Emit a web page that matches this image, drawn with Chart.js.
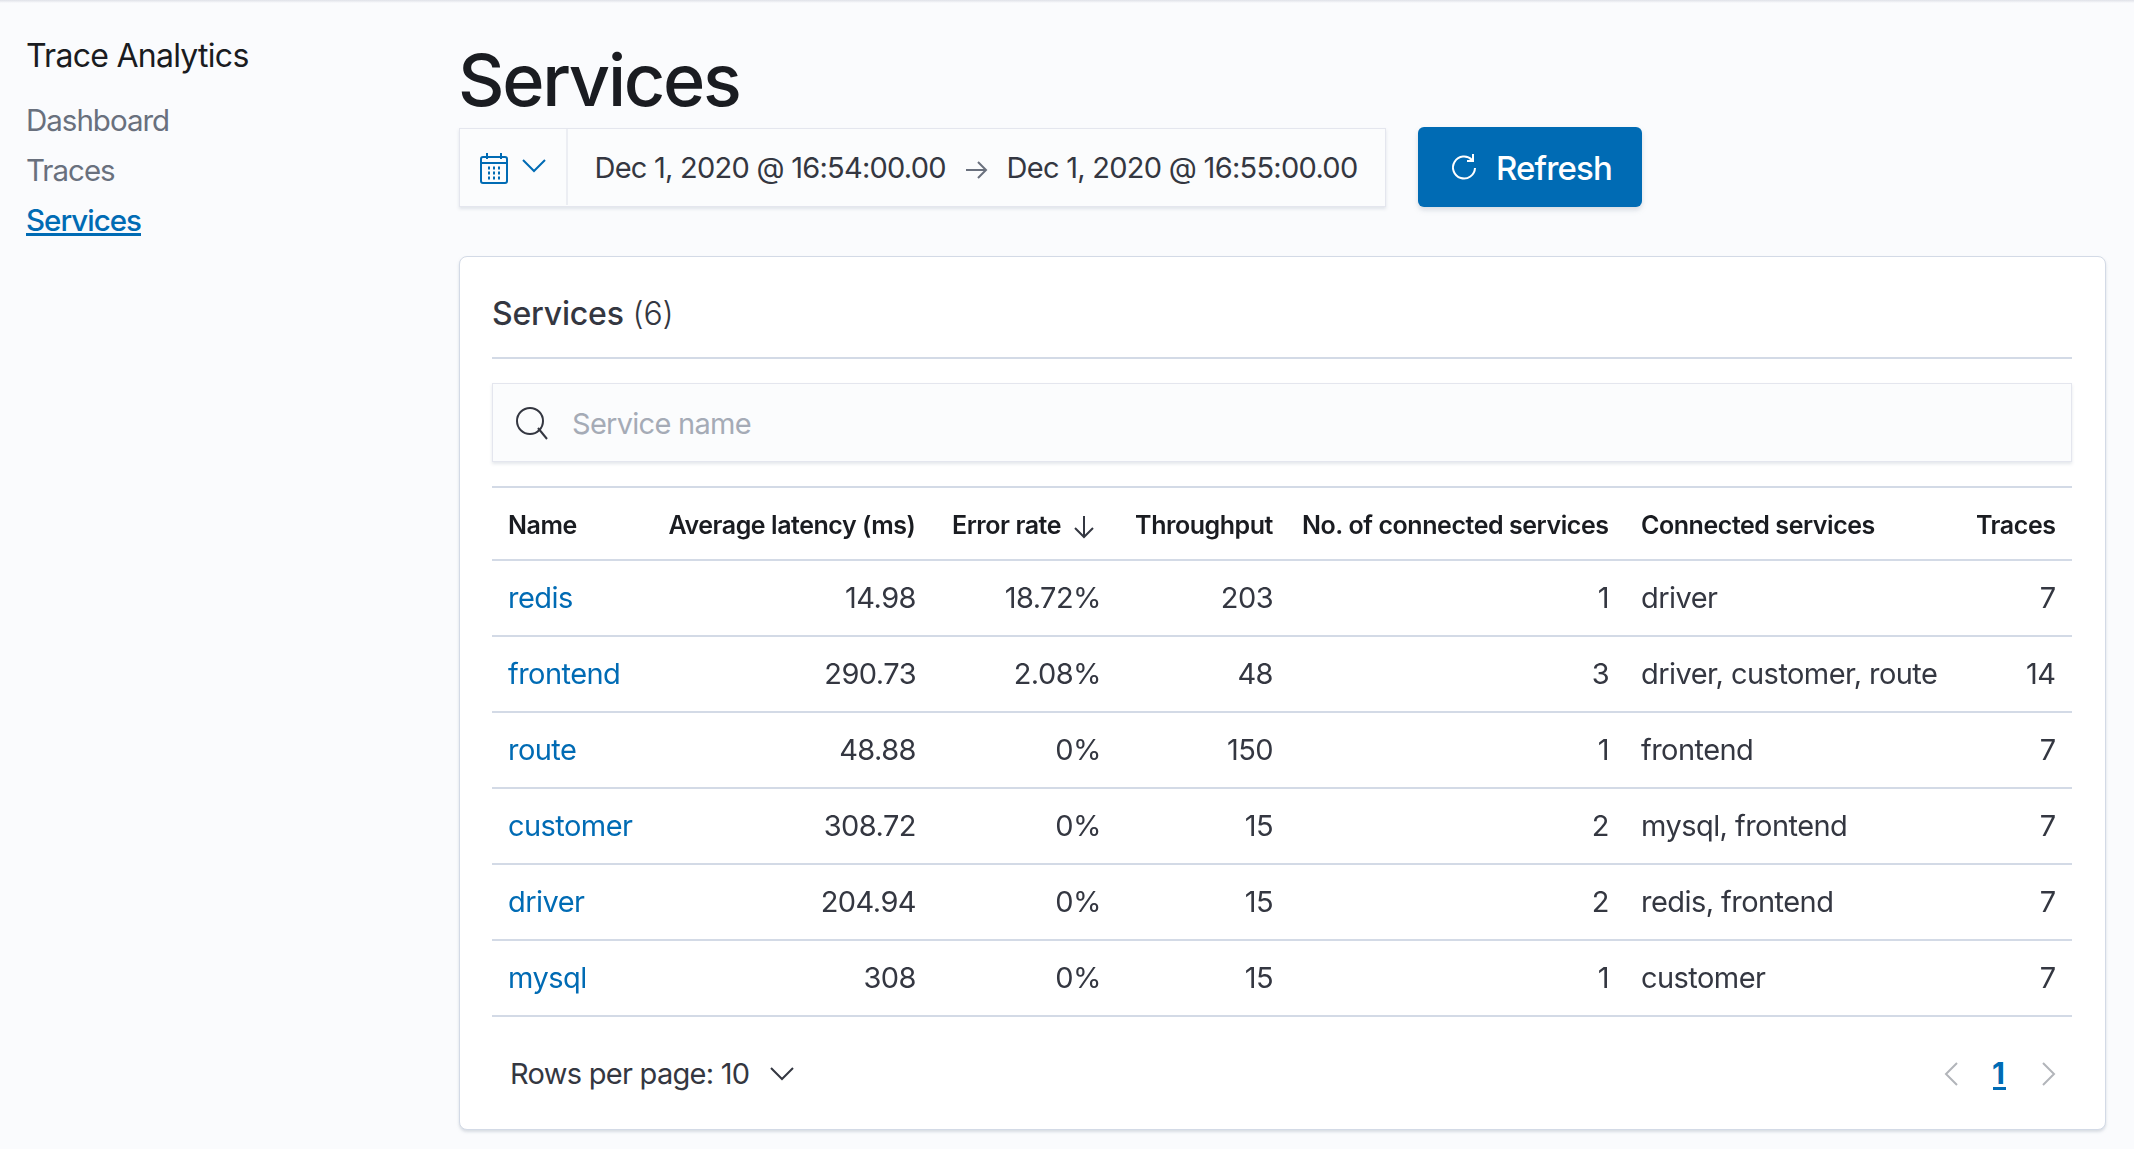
<!DOCTYPE html>
<html lang="en">
<head>
<meta charset="UTF-8">
<title>Trace Analytics - Services</title>
<script src="https://cdn.jsdelivr.net/npm/chart.js"></script>
<style>
  html, body { margin: 0; padding: 0; }
  body { width: 2134px; height: 1149px; position: relative; overflow: hidden; background: #fafbfd; font-family: Inter, sans-serif; }
  .abs { position: absolute; white-space: nowrap; line-height: 1; }
  .mid { transform: translateY(-50%); }
  #topshadow { position: absolute; left: 0; top: 0; width: 2134px; height: 3px; background: linear-gradient(#dfe1e8, #fafbfd); }
  #picker { position: absolute; left: 459px; top: 128px; width: 925px; height: 77px; background: #fbfcfd; border: 1px solid #e4e6ee; box-shadow: 0 2px 3px rgba(152,162,179,.25); }
  #sep { position: absolute; left: 566px; top: 129px; width: 2px; height: 76px; background: #eceef3; }
  #refresh { position: absolute; left: 1418px; top: 127px; width: 224px; height: 80px; background: #006bb4; border-radius: 6px; box-shadow: 0 3px 5px rgba(152,162,179,.35); }
  #panel { position: absolute; left: 459px; top: 256px; width: 1645px; height: 872px; background: #fff; border: 1px solid #d3dae6; border-radius: 8px; box-shadow: 0 2px 3px rgba(152,162,179,.35); }
  #rule { position: absolute; left: 492px; top: 357px; width: 1580px; height: 2px; background: #d3dae6; }
  #search { position: absolute; left: 492px; top: 383px; width: 1578px; height: 77px; background: #fbfcfd; border: 1px solid #e4e6ee; box-shadow: 0 2px 3px rgba(152,162,179,.25); }
  #table { position: absolute; left: 492px; top: 486px; }
  svg { position: absolute; overflow: visible; fill: none; }
</style>
</head>
<body>
<div id="topshadow"></div>

<div class="abs mid" style="left:26px;top:56px;font-size:32px;letter-spacing:-.73px;color:#1a1c21;">Trace Analytics</div>
<div class="abs mid" style="left:26px;top:121px;font-size:29.5px;letter-spacing:-1px;color:#69707d;">Dashboard</div>
<div class="abs mid" style="left:26px;top:171px;font-size:29.5px;letter-spacing:-1px;color:#69707d;">Traces</div>
<div class="abs mid" style="left:26px;top:221px;font-size:29.5px;letter-spacing:-1px;font-weight:500;color:#006bb4;">Services</div>
<div style="position:absolute;left:26px;top:233px;width:115px;height:3px;background:#006bb4;"></div>

<div class="abs mid" style="left:458px;top:80px;font-size:72px;letter-spacing:-2.3px;font-weight:500;color:#1a1c21;">Services</div>

<div id="picker"></div>
<div id="sep"></div>
<svg style="left:480px;top:153px;" width="28" height="30" stroke="#006bb4" stroke-width="2">
  <rect x="1" y="4" width="26" height="26" rx="2"/><path d="M1 10H27M7 0V6M21 0V6"/>
  <path d="M8 15h2M13 15h2M18 15h2M8 20h2M13 20h2M18 20h2M8 25h2M13 25h2M18 25h2" stroke-width="3"/>
</svg>
<svg style="left:522px;top:159px;" width="24" height="14" stroke="#006bb4" stroke-width="2"><path d="M1 1L12 12L23 1"/></svg>
<div class="abs mid" style="left:594.5px;top:167px;font-size:29px;letter-spacing:-.75px;color:#343741;">Dec 1, 2020 @ 16:54:00.00</div>
<svg style="left:966px;top:160px;" width="22" height="20" stroke="#69707d" stroke-width="2"><path d="M0 10H20M12 2L20 10L12 18"/></svg>
<div class="abs mid" style="left:1006.5px;top:167px;font-size:29px;letter-spacing:-.72px;color:#343741;">Dec 1, 2020 @ 16:55:00.00</div>

<div id="refresh"></div>
<svg style="left:1452px;top:154px;" width="24" height="26" stroke="#fff" stroke-width="2"><path d="M20 6A11 11 0 1 0 23 14M21 0V7H15"/></svg>
<div class="abs mid" style="left:1496px;top:168px;font-size:33px;letter-spacing:-.85px;font-weight:500;color:#fff;">Refresh</div>

<div id="panel"></div>
<div class="abs mid" style="left:492px;top:314px;font-size:32px;letter-spacing:-.2px;color:#343741;"><span style="font-weight:500;">Services</span> <span style="font-weight:300;">(6)</span></div>
<div id="rule"></div>

<div id="search"></div>
<svg style="left:516px;top:407px;" width="34" height="32" stroke="#343741" stroke-width="2"><circle cx="14" cy="14" r="13"/><path d="M22 25L31 36" transform="translate(0,-4)"/></svg>
<div class="abs mid" style="left:572px;top:423px;font-size:29px;letter-spacing:-.72px;color:#a5abb6;">Service name</div>

<canvas id="table" width="1580" height="532"></canvas>
<svg style="left:1073px;top:516px;" width="22" height="22" stroke="#343741" stroke-width="2"><path d="M11 0V21M2 12L11 21L20 12"/></svg>

<div class="abs mid" style="left:510px;top:1073px;font-size:29px;letter-spacing:-.72px;color:#343741;">Rows per page: 10</div>
<svg style="left:770px;top:1067px;" width="24" height="14" stroke="#343741" stroke-width="2"><path d="M1 1L12 12L23 1"/></svg>
<svg style="left:1945px;top:1062px;" width="13" height="24" stroke="#b2b5ba" stroke-width="2"><path d="M12 1L1 12L12 23"/></svg>
<div class="abs mid" style="left:1992px;top:1073px;font-size:30px;font-weight:700;color:#006bb4;">1</div>
<div style="position:absolute;left:1993px;top:1087px;width:13px;height:3px;background:#006bb4;"></div>
<svg style="left:2042px;top:1062px;" width="13" height="24" stroke="#b2b5ba" stroke-width="2"><path d="M1 1L12 12L1 23"/></svg>

<script>
// table content
const services = ['redis', 'frontend', 'route', 'customer', 'driver', 'mysql'];
const headers = ['Name', 'Average latency (ms)', 'Error rate', 'Throughput', 'No. of connected services', 'Connected services', 'Traces'];
const avgLatency = [14.98, 290.73, 48.88, 308.72, 204.94, 308];
const errorRate = [18.72, 2.08, 0, 0, 0, 0];
const throughput = [203, 48, 150, 15, 15, 15];
const connectedCount = [1, 3, 1, 2, 2, 1];
const connectedServices = ['driver', 'driver, customer, route', 'frontend', 'mysql, frontend', 'redis, frontend', 'customer'];
const traces = [7, 14, 7, 7, 7, 7];

// x axis runs in page pixels, so these are where each column sits
const xMin = 492, xMax = 2072;
const cellAnchors = [508, 916, 1101, 1273, 1609, 1641, 2055.5];
const headerAnchors = [508, 915.5, 1061, 1273, 1608.5, 1641, 2055.5];
const columnAlign = ['left', 'right', 'right', 'right', 'right', 'left', 'right'];

const columnText = [
  services,
  avgLatency.map(v => String(v)),
  errorRate.map(v => v + '%'),
  throughput.map(v => String(v)),
  connectedCount.map(v => String(v)),
  connectedServices,
  traces.map(v => String(v))
];

const cellLabels = {
  id: 'cellLabels',
  afterDatasetsDraw(chart) {
    const ctx = chart.ctx;
    const xScale = chart.scales.x;
    ctx.save();
    ctx.textBaseline = 'middle';

    // header row sits above the chart area
    ctx.font = '600 25px Inter';
    ctx.letterSpacing = '-0.45px';
    ctx.fillStyle = '#1a1c21';
    headers.forEach((h, i) => {
      ctx.textAlign = columnAlign[i];
      ctx.fillText(h, xScale.getPixelForValue(headerAnchors[i]), 40);
    });

    // top rule of the table
    ctx.fillStyle = '#d3dae6';
    ctx.fillRect(0, 0, chart.width, 2);

    ctx.font = '400 29px Inter';
    ctx.letterSpacing = '-0.55px';
    chart.data.datasets.forEach((ds, i) => {
      ctx.textAlign = columnAlign[i];
      ctx.fillStyle = i === 0 ? '#006bb4' : '#343741';
      chart.getDatasetMeta(i).data.forEach((pt, j) => {
        ctx.fillText(columnText[i][j], pt.x, pt.y + 1);
      });
    });
    ctx.restore();
  }
};

new Chart(document.getElementById('table'), {
  type: 'scatter',
  data: {
    datasets: columnText.map((col, i) => ({
      label: headers[i],
      data: services.map(s => ({ x: cellAnchors[i], y: s })),
      pointRadius: 0
    }))
  },
  options: {
    responsive: false,
    animation: false,
    devicePixelRatio: 1,
    events: [],
    layout: { padding: { top: 74, bottom: 2, left: 0, right: 0 } },
    plugins: { legend: { display: false }, tooltip: { enabled: false } },
    scales: {
      x: { type: 'linear', min: xMin, max: xMax, display: false },
      y: {
        type: 'category',
        labels: services,
        offset: true,
        ticks: { display: false },
        border: { display: false },
        grid: { offset: true, color: '#d3dae6', lineWidth: 2, drawTicks: false }
      }
    }
  },
  plugins: [cellLabels]
});
</script>
</body>
</html>
